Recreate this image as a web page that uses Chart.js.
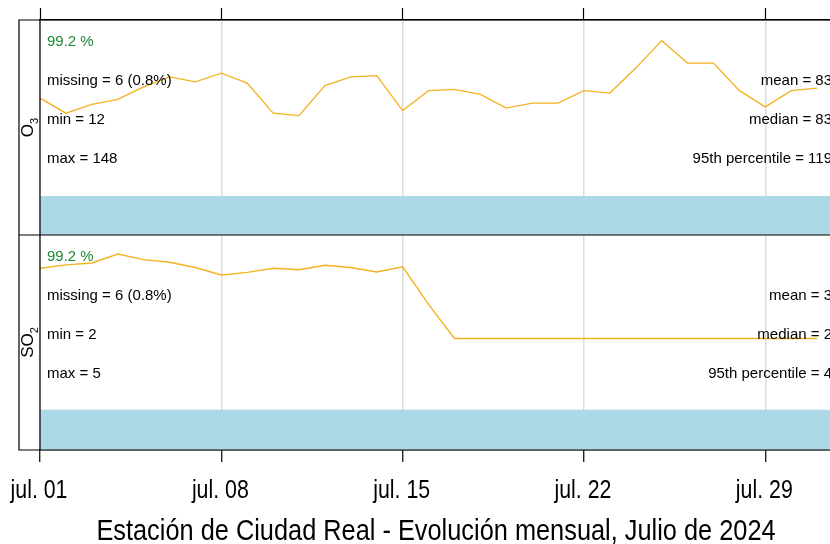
<!DOCTYPE html>
<html>
<head>
<meta charset="utf-8">
<script src="https://cdn.jsdelivr.net/npm/chart.js@4.4.1/dist/chart.umd.min.js"></script>
<style>
  html, body { margin: 0; padding: 0; background: #fff; overflow: hidden; }
</style>
</head>
<body>
<canvas id="summary" width="850" height="544"></canvas>
<script>
// days since jul. 01 (daily means plotted at 00:00)
const days = [0,1,2,3,4,5,6,7,8,9,10,11,12,13,14,15,16,17,18,19,20,21,22,23,24,25,26,27,28,29,30];
const tickDays = [0, 7, 14, 21, 28];
const tickLabels = ['jul. 01', 'jul. 08', 'jul. 15', 'jul. 22', 'jul. 29'];

const o3Values = [76,64,71,75,85,93,89,96,88,64,62,86,93,94,66,82,83,79,68,72,72,82,80,100,122,104,104,82,69,82,84];
const so2Values = [3.87,3.96,4.01,4.25,4.10,4.03,3.89,3.69,3.76,3.87,3.83,3.95,3.89,3.77,3.91,2.91,
                   2,2,2,2,2,2,2,2,2,2,2,2,2,2,2];

// data capture strip (whole month available)
const captureDays = [0, 31];
const o3CaptureTop = -2.3;
const so2CaptureTop = 0.10;

const o3Capture = '99.2 %';
const o3Left = ['missing = 6 (0.8%)', 'min = 12', 'max = 148'];
const o3Right = ['mean = 83', 'median = 83', '95th percentile = 119'];
const so2Capture = '99.2 %';
const so2Left = ['missing = 6 (0.8%)', 'min = 2', 'max = 5'];
const so2Right = ['mean = 3', 'median = 2', '95th percentile = 4'];

const chartTitle = 'Estación de Ciudad Real - Evolución mensual, Julio de 2024';

const plain = "'Liberation Sans', Arial, sans-serif";
const lineColor = '#f3b323';
const stripColor = '#add8e6';

function setTicks(axis) {
    axis.ticks = tickDays.map(v => ({ value: v }));
}

// narrow text (Arial Narrow look) = Liberation Sans squeezed horizontally
function narrowText(ctx, text, x, y, size, squeeze) {
    ctx.save();
    ctx.font = size + 'px ' + plain;
    ctx.textAlign = 'center';
    ctx.textBaseline = 'alphabetic';
    ctx.translate(x, y);
    ctx.scale(squeeze, 1);
    ctx.fillText(text, 0, 0);
    ctx.restore();
}

// frame, strip labels, tick labels and stats text like the openair summary plot
const panelFrame = {
    id: 'panelFrame',
    afterDraw(chart) {
        const ctx = chart.ctx;
        const area = chart.chartArea;
        const stripLeft = area.left - 21;
        const xs = chart.scales.x;
        const panels = [
            { scale: chart.scales.yO3, name: 'O', sub: '3', cap: o3Capture, left: o3Left, right: o3Right },
            { scale: chart.scales.ySO2, name: 'SO', sub: '2', cap: so2Capture, left: so2Left, right: so2Right }
        ];
        ctx.save();
        ctx.strokeStyle = '#000';
        ctx.lineWidth = 1.2;
        ctx.beginPath();
        ctx.rect(stripLeft, area.top, area.right - stripLeft, area.bottom - area.top);
        ctx.moveTo(stripLeft, chart.scales.yO3.bottom);
        ctx.lineTo(area.right, chart.scales.yO3.bottom);
        ctx.moveTo(area.left, area.top);
        ctx.lineTo(area.left, area.bottom);
        ctx.stroke();

        const rows = [0.102, 0.284, 0.465, 0.647];
        panels.forEach(p => {
            const top = p.scale.top;
            const h = p.scale.bottom - p.scale.top;
            ctx.textBaseline = 'middle';
            ctx.font = '15px ' + plain;
            ctx.textAlign = 'left';
            ctx.fillStyle = '#1f8a36';
            ctx.fillText(p.cap, area.left + 7, top + h * rows[0]);
            ctx.fillStyle = '#000';
            p.left.forEach((t, i) => ctx.fillText(t, area.left + 7, top + h * rows[i + 1]));
            ctx.textAlign = 'right';
            p.right.forEach((t, i) => ctx.fillText(t, area.right - 11, top + h * rows[i + 1]));

            // rotated pollutant name with subscript
            ctx.save();
            ctx.font = '17px ' + plain;
            const w1 = ctx.measureText(p.name).width;
            ctx.font = '11px ' + plain;
            const w2 = ctx.measureText(p.sub).width;
            ctx.translate(stripLeft + 14, top + h / 2 + (w1 + w2) / 2);
            ctx.rotate(-Math.PI / 2);
            ctx.textAlign = 'left';
            ctx.textBaseline = 'alphabetic';
            ctx.font = '17px ' + plain;
            ctx.fillText(p.name, 0, 0);
            ctx.font = '11px ' + plain;
            ctx.fillText(p.sub, w1, 5);
            ctx.restore();
        });

        // x tick labels and title
        ctx.fillStyle = '#000';
        xs.ticks.forEach((t, i) => {
            narrowText(ctx, tickLabels[i], xs.getPixelForValue(t.value) - 1, xs.bottom + 36, 26, 0.82);
        });
        narrowText(ctx, chartTitle, (stripLeft + area.right) / 2 + 5, xs.bottom + 78, 30, 0.845);
        ctx.restore();
    }
};

const ctx = document.getElementById('summary').getContext('2d');
const summaryChart = new Chart(ctx, {
    type: 'line',
    data: {
        datasets: [
            {
                label: 'O3',
                yAxisID: 'yO3',
                data: days.map((d, i) => ({ x: d, y: o3Values[i] })),
                borderColor: lineColor,
                borderWidth: 1.4,
                pointRadius: 0,
                tension: 0
            },
            {
                label: 'SO2',
                yAxisID: 'ySO2',
                data: days.map((d, i) => ({ x: d, y: so2Values[i] })),
                borderColor: lineColor,
                borderWidth: 1.4,
                pointRadius: 0,
                tension: 0
            },
            {
                label: 'O3 capture',
                yAxisID: 'yO3',
                data: captureDays.map(d => ({ x: d, y: o3CaptureTop })),
                borderWidth: 0,
                pointRadius: 0,
                backgroundColor: stripColor,
                fill: 'start'
            },
            {
                label: 'SO2 capture',
                yAxisID: 'ySO2',
                data: captureDays.map(d => ({ x: d, y: so2CaptureTop })),
                borderWidth: 0,
                pointRadius: 0,
                backgroundColor: stripColor,
                fill: 'start'
            }
        ]
    },
    options: {
        responsive: false,
        animation: false,
        devicePixelRatio: 1,
        layout: { padding: { left: 32, right: 7, top: 8, bottom: 82 } },
        plugins: {
            legend: { display: false },
            tooltip: { enabled: false },
            title: { display: false }
        },
        scales: {
            x: {
                type: 'linear',
                position: 'bottom',
                min: 0,
                max: 31,
                afterBuildTicks: setTicks,
                ticks: { display: false },
                grid: { color: '#dcdcdc', lineWidth: 1.5, tickColor: '#000', tickLength: 12, tickWidth: 1.2 },
                border: { display: true, color: '#000', width: 1.2 }
            },
            xTop: {
                type: 'linear',
                position: 'top',
                min: 0,
                max: 31,
                afterBuildTicks: setTicks,
                ticks: { display: false },
                grid: { drawOnChartArea: false, tickColor: '#000', tickLength: 12, tickWidth: 1.2 },
                border: { display: true, color: '#000', width: 1.2 }
            },
            yO3: {
                type: 'linear',
                position: 'left',
                stack: 'panels',
                stackWeight: 1,
                weight: 2,
                min: -33.5,
                max: 138.5,
                ticks: { display: false },
                grid: { display: false },
                border: { display: false }
            },
            ySO2: {
                type: 'linear',
                position: 'left',
                stack: 'panels',
                stackWeight: 1,
                weight: 1,
                min: -0.97,
                max: 4.756,
                ticks: { display: false },
                grid: { display: false },
                border: { display: false }
            }
        }
    },
    plugins: [panelFrame]
});
</script>
</body>
</html>
